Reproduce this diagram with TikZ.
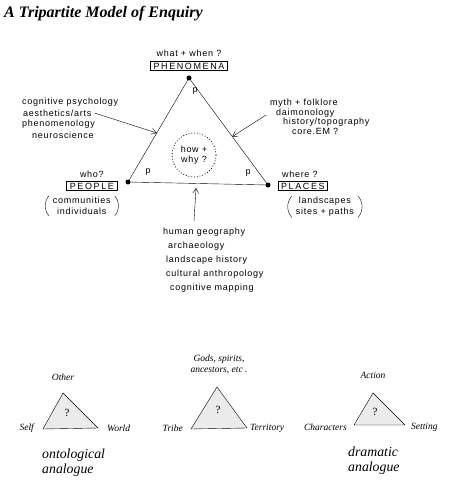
\documentclass[tikz,border=0pt]{standalone}
\usepackage{fontspec}
\setmainfont{Liberation Serif}
\setsansfont{Liberation Sans}
\newfontfamily\handfont{Liberation Sans}[LetterSpace=8]
\newfontfamily\capsfont{Liberation Sans}[LetterSpace=18]
\usepackage{xcolor}
\usetikzlibrary{arrows.meta, positioning}
\definecolor{trigray}{HTML}{EBEBEB}

\begin{document}
\begin{tikzpicture}[x=1pt, y=-1pt,
  hand/.style={font=\handfont\fontsize{9}{10.5}\selectfont, inner sep=0pt},
  vdot/.style={circle, fill=black, inner sep=0pt, minimum size=5pt},
  capsbox/.style={draw, line width=0.8pt, font=\capsfont\fontsize{9}{9}\selectfont,
    inner xsep=3pt, inner ysep=1.5pt},
  notebox/.style={hand, align=center, inner xsep=4pt, inner ysep=1pt},
  bracket/.style={thin, line cap=round},
  pointer/.style={-{Straight Barb[length=5pt, width=6pt]}, thin},
  smalltri/.style={draw, thin, fill=trigray},
  trilabel/.style={font=\itshape\fontsize{9.5}{11}\selectfont, inner sep=0pt, align=center},
  analogue/.style={font=\itshape\fontsize{13.8}{15}\selectfont, align=left, inner sep=0pt},
]
  \useasboundingbox (0,0) rectangle (448,500);

  \node[font=\bfseries\itshape\fontsize{16}{16}\selectfont, anchor=west, inner sep=0pt]
    (title) at (4,14) {A Tripartite Model of Enquiry};

  % main triangle
  \node[vdot] (phen) at (189,78) {};
  \node[vdot] (peop) at (128,182) {};
  \node[vdot] (plac) at (268,185) {};
  \draw (phen) -- (peop) -- (plac) -- (phen);

  \node[capsbox, above=4pt of phen] (phenbox) {PHENOMENA};
  \node[hand, above=4pt of phenbox] (phenq) {what + when ?};
  \node[capsbox, left=8pt of peop, yshift=-4pt] (peopbox) {PEOPLE};
  \node[hand, above=3pt of peopbox] (peopq) {who?};
  \node[capsbox, right=7pt of plac, yshift=-1pt] (placbox) {PLACES};
  \node[hand, above=3pt of placbox, xshift=-3pt] (placq) {where ?};
  \node[notebox, below=5pt of peopbox, xshift=-10pt] (peopx) {communities\\individuals};
  \node[notebox, below=5pt of placbox, xshift=22pt] (placx) {landscapes\\sites + paths};
  \draw[bracket] (peopx.north west) to[bend right=40] (peopx.south west);
  \draw[bracket] (peopx.north east) to[bend left=40] (peopx.south east);
  \draw[bracket] (placx.north west) to[bend right=40] (placx.south west);
  \draw[bracket] (placx.north east) to[bend left=40] (placx.south east);

  \node[hand] (pa) at (195,91) {p};
  \node[hand] (pb) at (148,172) {p};
  \node[hand] (pc) at (248,173) {p};

  \node[hand, circle, draw, line width=0.8pt, dash pattern=on 0.8pt off 2pt,
    minimum size=44pt, align=center] (why) at (194,155) {how +\\why ?};

  % left disciplines
  \node[hand, anchor=west] (cogpsy) at (22,102) {cognitive psychology};
  \node[hand, anchor=west] (arts) at (23,113) {aesthetics/arts};
  \node[hand, anchor=west] (phenom) at (22,124) {phenomenology};
  \node[hand, anchor=west] (neuro) at (32,135) {neuroscience};

  % right disciplines
  \node[hand, anchor=west] (myth) at (270,103) {myth + folklore};
  \node[hand, anchor=west] (daimon) at (276,113) {daimonology};
  \node[hand, anchor=west] (histtopo) at (283,122) {history/topography};
  \node[hand, anchor=west] (coreem) at (292,131) {core.EM ?};

  % lower disciplines
  \node[hand, font=\handfont\fontsize{9}{14}\selectfont, align=left, anchor=north west]
    (lower) at (163,228) {human geography\\\hspace{5pt}archaeology\\\hspace{3pt}landscape history\\\hspace{3pt}cultural anthropology\\\hspace{7pt}cognitive mapping};

  \path (phen) -- (peop) coordinate[pos=0.53] (lside);
  \path (phen) -- (plac) coordinate[pos=0.55] (rside);
  \coordinate (bhead) at (196,188);
  \coordinate (btail) at (194,221);
  \draw[pointer] ([xshift=3pt]arts.east) -- (lside);
  \draw[pointer] ([xshift=-10pt,yshift=-2pt]daimon.west) -- (rside);
  \draw[pointer] (btail) -- (bhead);

  % ontological analogue
  \coordinate (oth) at (63,393);
  \coordinate (slf) at (43,429);
  \coordinate (wld) at (98,428);
  \draw[smalltri] (oth) -- (wld) -- (slf) -- cycle;
  \node[font=\fontsize{11}{11}\selectfont] (q1) at (67,413) {?};
  \node[trilabel, above=12pt of oth] (other) {Other};
  \node[trilabel, left=9pt of slf, yshift=1pt] (self) {Self};
  \node[trilabel, right=9pt of wld] (world) {World};
  \node[analogue, anchor=north west] (onto) at (42,449) {ontological\\analogue};

  % tribe / territory
  \coordinate (gds) at (217,387);
  \coordinate (trb) at (191,429);
  \coordinate (ter) at (247,428);
  \draw[smalltri] (gds) -- (ter) -- (trb) -- cycle;
  \node[font=\fontsize{11}{11}\selectfont] (q2) at (218,410) {?};
  \node[trilabel, above=13pt of gds, xshift=2pt] (gods) {Gods, spirits,\\ancestors, etc .};
  \node[trilabel, left=8pt of trb, yshift=1pt] (tribe) {Tribe};
  \node[trilabel, right=3pt of ter] (terr) {Territory};

  % dramatic analogue
  \coordinate (act) at (373,393);
  \coordinate (chr) at (354,425);
  \coordinate (set) at (405,425);
  \draw[smalltri] (act) -- (set) -- (chr) -- cycle;
  \node[font=\fontsize{11}{11}\selectfont] (q3) at (375,412) {?};
  \node[trilabel, above=14pt of act] (action) {Action};
  \node[trilabel, left=7pt of chr, yshift=-2pt] (chars) {Characters};
  \node[trilabel, right=6pt of set, yshift=-2pt] (setting) {Setting};
  \node[analogue, anchor=north west] (drama) at (348,447) {dramatic\\analogue};
\end{tikzpicture}
\end{document}
